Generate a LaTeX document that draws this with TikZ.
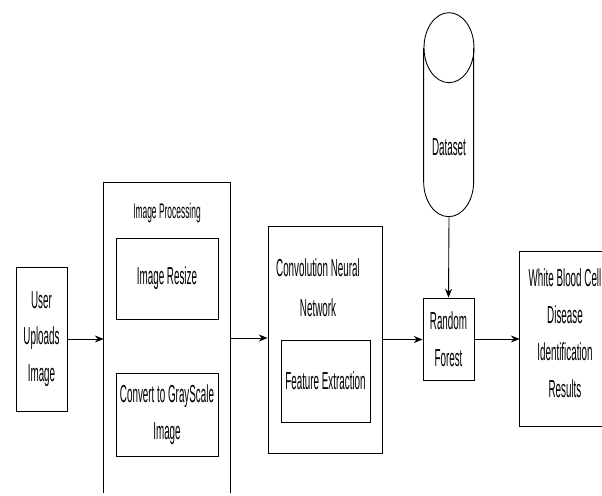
\documentclass[tikz,border=0pt]{standalone}
\usepackage{fontspec}
\setmainfont{Liberation Sans}[FakeStretch=0.4]
\usetikzlibrary{arrows.meta}

\tikzset{
  block/.style={draw, line width=0.5pt, inner sep=0pt},
  frame/.style={line width=0.5pt},
  flow/.style={-{Stealth[length=5pt,width=4pt]}, line width=0.5pt},
}

\begin{document}
\begin{tikzpicture}[x=0.02cm, y=-0.02cm, font=\fontsize{14}{21}\selectfont]
  \useasboundingbox (0,0) rectangle (602,495);
  % input
  \node[block, minimum width=1.02cm, minimum height=2.88cm, align=center] (user) at (41.5,339) {User\\Uploads\\Image};
  % image processing group, open at the bottom
  \node[minimum width=2.52cm, minimum height=6.2cm] (ipbox) at (167,338) {};
  \draw[frame] (ipbox.south west) |- (ipbox.north east) -- (ipbox.south east);
  \node[font=\fontsize{12}{14}\selectfont] (iptitle) at (167,213) {Image Processing};
  \node[block, minimum width=2.04cm, minimum height=1.62cm] (resize) at (167,278.5) {Image Resize};
  \node[block, minimum width=2.04cm, minimum height=1.66cm, align=center] (gray) at (167,414.5) {Convert to GrayScale\\Image};
  % cnn
  \node[block, minimum width=2.28cm, minimum height=4.54cm] (cnn) at (325,339.5) {};
  \node[align=center, font=\fontsize{14}{23}\selectfont] (cnntitle) at (318,287.5) {Convolution Neural\\Network};
  \node[block, minimum width=1.78cm, minimum height=1.64cm] (feat) at (325.5,381) {Feature Extraction};
  % classifier and data
  \node[block, minimum width=1.02cm, minimum height=1.64cm, align=center] (rf) at (448.5,339) {Random\\Forest};
  \node[minimum width=1cm, minimum height=4.08cm, inner sep=0pt] (dataset) at (449,115) {};
  \draw[frame] (dataset.north) ++(0,35) ellipse [x radius=0.5cm, y radius=0.7cm];
  \draw[frame] (dataset.north west) ++(0,35) -- ++(0,134)
    arc [start angle=180, end angle=360, x radius=0.5cm, y radius=0.7cm] -- ++(0,-134);
  \node (dstext) at (449,147) {Dataset};
  % result, cut at the right edge
  \node[minimum width=1.8cm, minimum height=3.48cm] (wbc) at (565,339) {};
  \draw[frame] (wbc.north east) -- (wbc.north west) -- (wbc.south west) -- (wbc.south east);
  \node[align=center] (wbctext) at (565,333.5) {White Blood Cell\\Disease\\Identification\\Results};
  % arrows
  \draw[flow] (user.east) -- (user.east -| ipbox.west);
  \draw[flow] (ipbox.east) -- (ipbox.east -| cnn.west);
  \draw[flow] (cnn.east) -- (cnn.east -| rf.west);
  \draw[flow] (dataset.south) -- (rf.north);
  \draw[flow] (rf.east) -- (rf.east -| wbc.west);
\end{tikzpicture}
\end{document}
